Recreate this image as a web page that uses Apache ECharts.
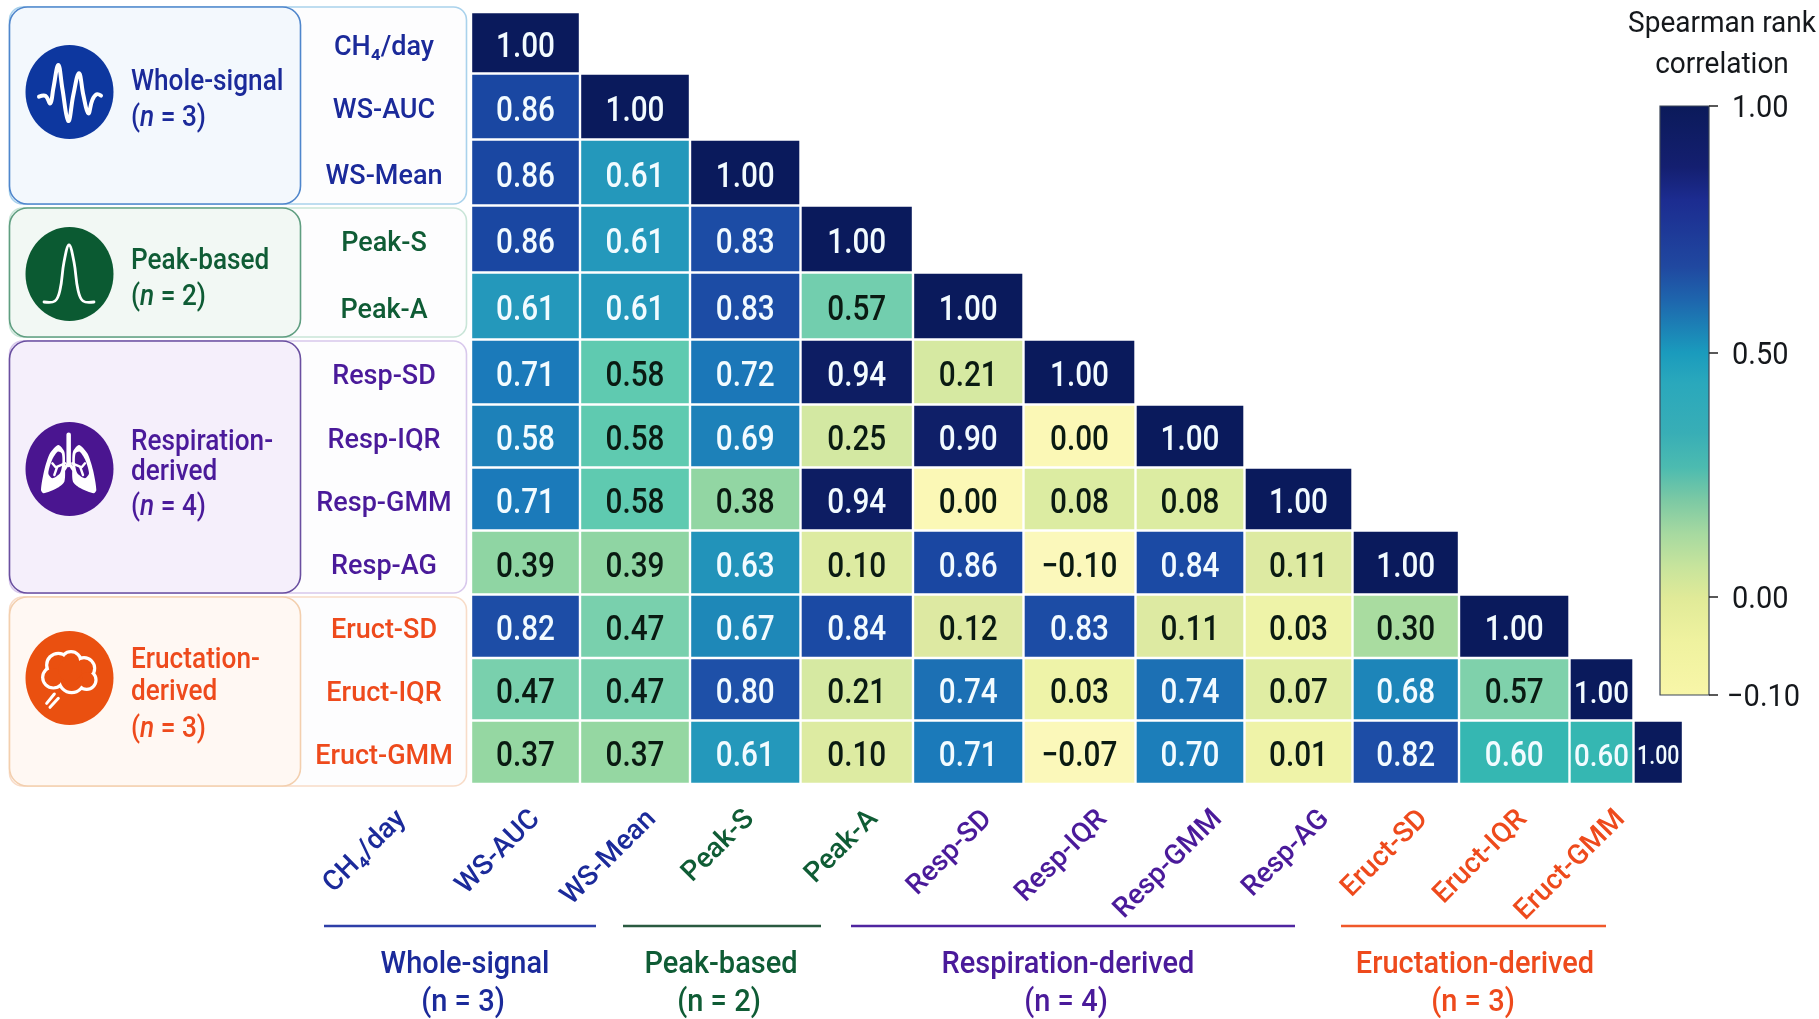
<!DOCTYPE html>
<html>
<head>
<meta charset="utf-8">
<style>
  html, body { margin: 0; padding: 0; background: #fff; }
  #chart { width: 1819px; height: 1019px; }
</style>
</head>
<body>
<div id="chart"></div>
<script src="https://cdn.jsdelivr.net/npm/echarts@6/dist/echarts.min.js"></script>
<script>
// 数据
const metrics = ['CH₄/day', 'WS-AUC', 'WS-Mean', 'Peak-S', 'Peak-A', 'Resp-SD', 'Resp-IQR', 'Resp-GMM', 'Resp-AG', 'Eruct-SD', 'Eruct-IQR', 'Eruct-GMM'];
const metricGroup = [0, 0, 0, 1, 1, 2, 2, 2, 2, 3, 3, 3];
const correlation = [
  [1.00],
  [0.86, 1.00],
  [0.86, 0.61, 1.00],
  [0.86, 0.61, 0.83, 1.00],
  [0.61, 0.61, 0.83, 0.57, 1.00],
  [0.71, 0.58, 0.72, 0.94, 0.21, 1.00],
  [0.58, 0.58, 0.69, 0.25, 0.90, 0.00, 1.00],
  [0.71, 0.58, 0.38, 0.94, 0.00, 0.08, 0.08, 1.00],
  [0.39, 0.39, 0.63, 0.10, 0.86, -0.10, 0.84, 0.11, 1.00],
  [0.82, 0.47, 0.67, 0.84, 0.12, 0.83, 0.11, 0.03, 0.30, 1.00],
  [0.47, 0.47, 0.80, 0.21, 0.74, 0.03, 0.74, 0.07, 0.68, 0.57, 1.00],
  [0.37, 0.37, 0.61, 0.10, 0.71, -0.07, 0.70, 0.01, 0.82, 0.60, 0.60, 1.00]
];
// 图上这几格的颜色和数字对不上，按颜色读出来的值 [row, col, shade]
const shadeOverrides = [[6, 0, 0.69], [4, 3, 0.50], [10, 9, 0.45]];
const groupNames = ['Whole-signal', 'Peak-based', 'Respiration-derived', 'Eructation-derived'];
const groupSizes = [3, 2, 4, 3];
const colorbarTicks = ['1.00', '0.50', '0.00', '−0.10'];

// 布局
const FONT = 'Roboto, "Noto Sans", sans-serif';
const groupColors = ['#1b2a9a', '#0f5c35', '#4a1a9a', '#ee4a1c'];
const iconColors = ['#0d379f', '#0b5a32', '#4a1590', '#ea5010'];
const colWidths = [109, 110, 110.5, 112.5, 110.5, 112, 109, 108, 106.5, 110.5, 64, 49.5];
const rowHeights = [61.5, 66, 66, 67, 67, 65, 63, 63, 64, 63.5, 62.5, 63.5];
const xLabelAnchors = [-69, 65, 181, 279, 403, 517, 632, 747, 854, 953, 1052, 1150];

const edges = (list) => list.reduce((acc, w) => { acc.push(acc[acc.length - 1] + w); return acc; }, [0]);
const colEdges = edges(colWidths);
const rowEdges = edges(rowHeights);
// Roboto 的中线偏上，标签整体往下挪一点
const rowLabelValues = rowHeights.map((h, i) => rowEdges[i] + h / 2 + 5);
const nearestIndex = (list, v) => {
  let best = 0;
  list.forEach((item, i) => { if (Math.abs(item - v) < Math.abs(list[best] - v)) best = i; });
  return best;
};

// 单元格色阶（不是线性的，跟着图上取色）
const cellStops = [
  [-0.1, '#fbf8bb'], [0, '#fbf8b6'], [0.01, '#eff3a8'], [0.03, '#eef3a8'], [0.08, '#dceca2'],
  [0.12, '#dde9a2'], [0.21, '#d6e9a2'], [0.25, '#d3e8a2'], [0.30, '#a9dca0'], [0.39, '#8fd5a3'],
  [0.47, '#79d0ad'], [0.58, '#5fcab0'], [0.60, '#35b7b2'], [0.61, '#2498bb'], [0.67, '#1e88b8'],
  [0.71, '#1b7aba'], [0.74, '#1c70b4'], [0.80, '#1e50a8'], [0.86, '#1a47a2'], [0.90, '#0f1f68'], [1, '#0a1a5c']
];
function cellColor(v) {
  for (let i = 1; i < cellStops.length; i++) {
    if (v <= cellStops[i][0]) {
      const a = cellStops[i - 1], b = cellStops[i];
      return echarts.color.lerp((v - a[0]) / (b[0] - a[0]), [a[1], b[1]]);
    }
  }
  return cellStops[cellStops.length - 1][1];
}

const cells = [];
correlation.forEach((row, r) => {
  row.forEach((v, c) => {
    const o = shadeOverrides.find((s) => s[0] === r && s[1] === c);
    cells.push([c, r, v, o ? o[2] : v]);
  });
});

function renderCell(params, api) {
  const c = api.value(0), r = api.value(1), v = api.value(2), shade = api.value(3);
  const p0 = api.coord([colEdges[c], rowEdges[r]]);
  const p1 = api.coord([colEdges[c + 1], rowEdges[r + 1]]);
  const w = p1[0] - p0[0], h = p1[1] - p0[1];
  return {
    type: 'group',
    children: [
      {
        type: 'rect',
        shape: { x: p0[0] + 1.2, y: p0[1] + 1.2, width: w - 2.4, height: h - 2.4 },
        style: { fill: cellColor(shade) }
      },
      {
        type: 'text',
        x: p0[0] + w / 2,
        y: p0[1] + h / 2 + 5.5,
        scaleX: 0.96,
        scaleY: 1.12,
        style: {
          text: v.toFixed(2).replace('-', '−'),
          x: 0,
          y: 0,
          align: 'center',
          verticalAlign: 'middle',
          fill: shade >= 0.6 ? '#f2fbff' : '#0a1a12',
          fontFamily: FONT,
          fontWeight: 500,
          fontSize: Math.min(31, w * 0.45)
        }
      }
    ]
  };
}

// 左侧分组框 + 图标
const boxes = [
  { top: 7, bottom: 204, fill: '#f3f8fd', line: '#4f86cc', outer: '#a9d2ec', cy: 92 },
  { top: 208, bottom: 337, fill: '#f2f8f4', line: '#5f9e80', outer: '#c9e5d8', cy: 274 },
  { top: 341, bottom: 593, fill: '#f5effb', line: '#6a4fa0', outer: '#d8c8ec', cy: 469 },
  { top: 597, bottom: 786, fill: '#fff8f3', line: '#f3cfae', outer: '#f8dcc8', cy: 678 }
];
const boxText = [
  [['Whole-signal', 80], ['(n = 3)', 116]],
  [['Peak-based', 259], ['(n = 2)', 295]],
  [['Respiration-', 440], ['derived', 470], ['(n = 4)', 505]],
  [['Eructation-', 658], ['derived', 690], ['(n = 3)', 727]]
];

const graphics = [];
const white = '#ffffff';
function addText(text, x, y, color, size, align, weight, scaleX) {
  graphics.push({
    type: 'text', z: 5,
    x, y: y + 3,
    scaleX: scaleX || 1,
    scaleY: 1.08,
    style: { text, x: 0, y: 0, fill: color, fontFamily: FONT, fontSize: size, fontWeight: weight || 500, align: align || 'left', verticalAlign: 'middle', rich: { i: { fontStyle: 'italic', fill: color, fontFamily: FONT, fontSize: size, fontWeight: weight || 500 } } }
  });
}
function addLine(points, color, width, smooth) {
  graphics.push({ type: 'polyline', z: 4, shape: { points, smooth: smooth || 0 }, style: { stroke: color, lineWidth: width, fill: null, lineCap: 'round', lineJoin: 'round' } });
}

boxes.forEach((b, g) => {
  graphics.push({ type: 'rect', z: -2, shape: { x: 9.5, y: b.top, width: 457, height: b.bottom - b.top, r: 13 }, style: { fill: '#fdfdfe', stroke: b.outer, lineWidth: 1.6 } });
  graphics.push({ type: 'rect', z: -1, shape: { x: 9.5, y: b.top, width: 291, height: b.bottom - b.top, r: 18 }, style: { fill: b.fill, stroke: b.line, lineWidth: 1.6 } });
  graphics.push({ type: 'ellipse', z: 3, shape: { cx: 69.5, cy: b.cy, rx: 44, ry: 47 }, style: { fill: iconColors[g] } });
  boxText[g].forEach((t) => {
    const label = t[0].startsWith('(n') ? t[0].replace('n', '{i|n}') : t[0];
    addText(label, 131, t[1], groupColors[g], 27, 'left', 500, 0.97);
  });
});

// 波形
const at = (ox, oy) => (p) => [ox + p[0] / 3, oy + p[1] / 3];
addLine([[72, 185], [92, 183], [106, 205], [115, 160], [130, 90], [142, 160], [160, 258], [175, 180], [192, 115], [205, 180], [220, 235], [232, 195], [245, 178], [258, 182]].map(at(15, 35)), white, 4, 0.4);
// 峰
addLine([[44, 302], [55, 301], [60, 290], [64, 262], [69, 245], [74, 262], [78, 290], [83, 301], [94, 302]], white, 2.8, 0.4);
// 肺
const lung = at(15, 410);
const mirror = (p) => [322 - p[0], p[1]];
const lungL = [[130, 105], [105, 130], [88, 180], [78, 240], [86, 250], [125, 235], [148, 215], [150, 165], [148, 125]];
const holeL = [[128, 125], [112, 148], [100, 190], [112, 205], [135, 190], [142, 160], [140, 130]];
[(p) => p, mirror].forEach((f) => {
  graphics.push({ type: 'polygon', z: 4, shape: { points: lungL.map(f).map(lung), smooth: 0.25 }, style: { fill: white } });
  graphics.push({ type: 'polygon', z: 4, shape: { points: holeL.map(f).map(lung), smooth: 0.25 }, style: { fill: iconColors[2] } });
  addLine([[150, 160], [122, 172], [112, 160]].map(f).map(lung), white, 2.4);
  addLine([[126, 172], [118, 195]].map(f).map(lung), white, 2.4);
});
addLine([[161, 74], [161, 165]].map(lung), white, 4.5);
addLine([[161, 158], [148, 178]].map(lung), white, 3);
addLine([[161, 158], [174, 178]].map(lung), white, 3);
// 云
const cloud = at(15, 620);
const lobes = [[130, 135, 35], [168, 125, 30], [207, 145, 32], [215, 180, 28], [170, 180, 38], [115, 172, 32], [165, 150, 40]];
[[1.6, white], [-1.6, iconColors[3]]].forEach((pass) => {
  lobes.forEach((l) => {
    const c = cloud(l);
    graphics.push({ type: 'circle', z: pass[0] > 0 ? 4 : 5, shape: { cx: c[0], cy: c[1], r: l[2] / 3 + pass[0] }, style: { fill: pass[1] } });
  });
});
addLine([[118, 222], [95, 250]].map(cloud), white, 3);
addLine([[130, 235], [105, 262]].map(cloud), white, 3);

// 底部分组
const brackets = [[324, 596, 465], [623, 821, 721], [851, 1295, 1068], [1341, 1606, 1475]];
const bracketColors = ['#2e3fa8', '#2a5a40', '#4f25a0', '#f0582a'];
brackets.forEach((b, g) => {
  graphics.push({ type: 'line', z: 4, shape: { x1: b[0], y1: 926, x2: b[1], y2: 926 }, style: { stroke: bracketColors[g], lineWidth: 2.6 } });
  addText(groupNames[g], b[2], 962, groupColors[g], 29, 'center', 500);
  addText('(n = ' + groupSizes[g] + ')', b[2] - 2, 1000, groupColors[g], 29, 'center', 500);
});

// 色条（刻度本来就不等距）
const CB = { x: 1660, y: 106, w: 49, h: 589 };
const colorbarStops = [
  [0, '#0b1a5a'], [0.104, '#141f70'], [0.16, '#1c2c90'], [0.273, '#2048a0'], [0.329, '#1e65ad'], [0.419, '#1a9bbd'],
  [0.47, '#2aa8bc'], [0.555, '#38aeb6'], [0.613, '#4cbbb0'], [0.669, '#7cc9a4'], [0.725, '#a6d9a0'], [0.783, '#c8e49c'],
  [0.834, '#e0ea98'], [0.907, '#eff29f'], [1, '#f8f6a8']
];
graphics.push({
  type: 'rect', z: 3,
  shape: { x: CB.x, y: CB.y, width: CB.w, height: CB.h },
  style: {
    fill: new echarts.graphic.LinearGradient(0, 0, 0, 1, colorbarStops.map((s) => ({ offset: s[0], color: s[1] }))),
    stroke: '#3c4658', lineWidth: 1.2
  }
});
[106, 353, 597, 695].forEach((y, i) => {
  graphics.push({ type: 'line', z: 4, shape: { x1: CB.x + CB.w, y1: y, x2: CB.x + CB.w + 9, y2: y }, style: { stroke: '#222', lineWidth: 1.5 } });
  addText(colorbarTicks[i], i === 3 ? 1727 : 1732, y, '#15181c', 29, 'left', 400);
});
addText('Spearman rank', 1722, 21, '#15181c', 28, 'center', 400);
addText('correlation', 1722, 62, '#15181c', 28, 'center', 400);

const chart = echarts.init(document.getElementById('chart'));
chart.setOption({
  backgroundColor: '#ffffff',
  animation: false,
  textStyle: { fontFamily: FONT },
  // 网格左边放在行标签中线上，x 轴从 -87 开始，单元格才从 0 开始
  grid: { left: 384, top: 12, width: 1299, height: 772, containLabel: false },
  xAxis: {
    type: 'value',
    min: -87,
    max: 1212,
    axisLine: { show: false },
    axisTick: { show: false },
    splitLine: { show: false },
    axisLabel: {
      customValues: xLabelAnchors,
      rotate: 45,
      margin: 31,
      fontSize: 28,
      fontWeight: 500,
      fontFamily: FONT,
      formatter: (v) => metrics[nearestIndex(xLabelAnchors, v)],
      color: (v) => groupColors[metricGroup[nearestIndex(xLabelAnchors, Number(v))]]
    }
  },
  yAxis: {
    type: 'value',
    inverse: true,
    min: 0,
    max: 772,
    axisLine: { show: false },
    axisTick: { show: false },
    splitLine: { show: false },
    axisLabel: {
      customValues: rowLabelValues,
      align: 'center',
      margin: 0,
      fontSize: 27,
      fontWeight: 500,
      fontFamily: FONT,
      formatter: (v) => metrics[nearestIndex(rowLabelValues, v)],
      color: (v) => groupColors[metricGroup[nearestIndex(rowLabelValues, Number(v))]]
    }
  },
  graphic: { elements: graphics },
  series: [
    {
      type: 'custom',
      coordinateSystem: 'cartesian2d',
      renderItem: renderCell,
      clip: false,
      encode: { x: 0, y: 1 },
      data: cells
    }
  ]
});
</script>
</body>
</html>
